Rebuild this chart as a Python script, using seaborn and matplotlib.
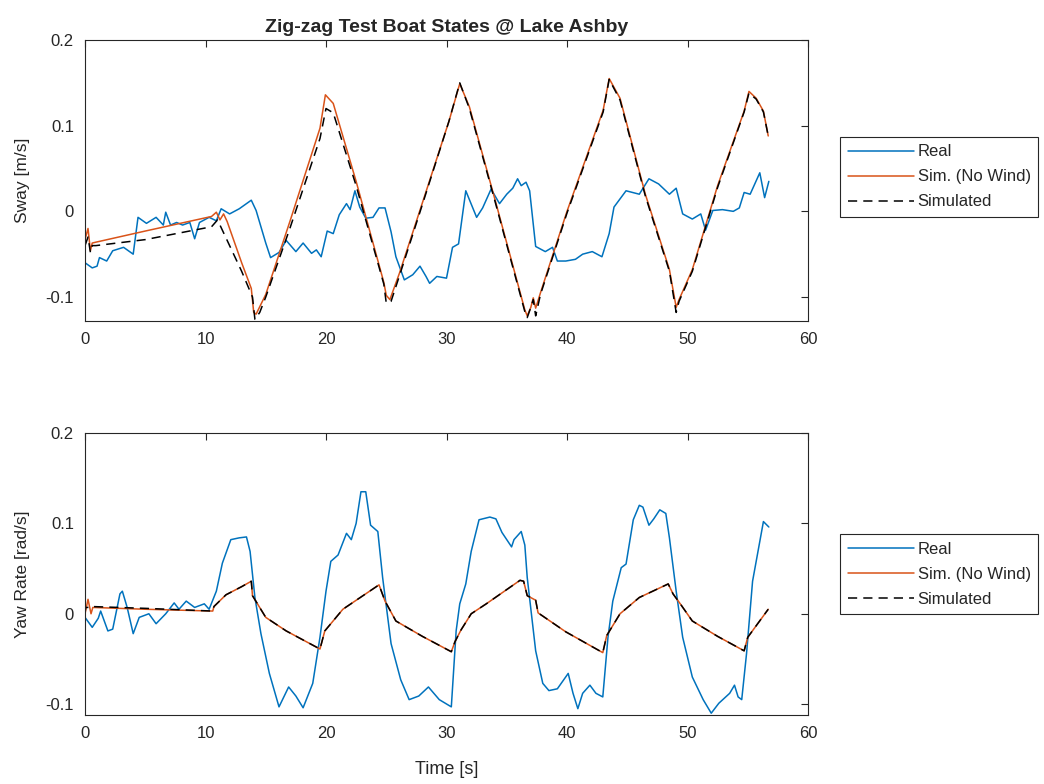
import matplotlib
matplotlib.use("Agg")
import matplotlib.pyplot as plt
import seaborn as sns
import numpy as np

# ---------------- data ----------------
# Sway [m/s]
sway_real_t = [0, 0.6, 1.0, 1.2, 1.8, 2.3, 3.2, 4.0, 4.4, 5.1, 5.9, 6.5, 6.7, 7.1, 7.6, 8.1, 8.7, 9.1, 9.5,
               10.3, 10.9, 11.3, 12.0, 12.8, 13.8, 14.2, 15.0, 15.4, 16.1, 16.7, 17.5, 18.1, 18.8, 19.2, 19.6,
               20.1, 20.6, 21.1, 21.7, 22.0, 22.4, 22.8, 23.3, 23.9, 24.4, 24.9, 25.4, 25.8, 26.5, 27.2, 27.8,
               28.3, 28.6, 29.2, 30.0, 30.5, 31.0, 31.6, 32.5, 33.0, 33.7, 34.4, 35.0, 35.5, 35.9, 36.2, 36.6,
               36.9, 37.4, 38.2, 38.8, 39.2, 39.9, 40.7, 41.3, 42.1, 42.9, 43.5, 43.9, 44.9, 46.0, 46.8, 47.6,
               48.5, 49.06, 49.6, 50.4, 51.1, 51.5, 52.1, 52.9, 53.8, 54.3, 54.7, 55.2, 56.0, 56.4, 56.75]
sway_real_v = [-0.060, -0.066, -0.064, -0.054, -0.058, -0.046, -0.042, -0.050, -0.007, -0.014, -0.007, -0.016,
               -0.001, -0.016, -0.013, -0.016, -0.013, -0.032, -0.013, -0.007, -0.011, 0.003, -0.003, 0.003,
               0.013, 0.001, -0.037, -0.054, -0.048, -0.034, -0.047, -0.037, -0.049, -0.045, -0.053, -0.023,
               -0.026, -0.004, 0.009, 0.002, 0.024, 0.005, -0.008, -0.007, 0.004, 0.004, -0.024, -0.053, -0.080,
               -0.074, -0.064, -0.076, -0.084, -0.076, -0.078, -0.042, -0.038, 0.024, -0.007, 0.004, 0.026,
               0.009, 0.020, 0.027, 0.038, 0.030, 0.034, 0.024, -0.041, -0.047, -0.042, -0.058, -0.058, -0.056,
               -0.050, -0.047, -0.053, -0.026, 0.005, 0.024, 0.020, 0.038, 0.032, 0.020, 0.027, -0.003, -0.009,
               -0.003, -0.022, 0.001, 0.002, 0.000, 0.004, 0.022, 0.020, 0.045, 0.016, 0.035]

sway_nowind_t = [0, 0.25, 0.45, 0.6, 0.9, 5, 10.5, 10.9, 11.2, 11.5, 11.8, 13.0, 13.8, 14.0, 14.2, 15.0, 17.0,
                 19.5, 19.95, 20.6, 22.5, 24.8, 25.0, 25.3, 26.1, 28.0, 30.2, 31.1, 31.9, 34.0, 36.5, 36.7,
                 37.0, 37.2, 37.4, 37.8, 40.0, 43.0, 43.5, 44.4, 46.5, 48.5, 49.06, 49.3, 50.4, 52.5, 54.7,
                 55.1, 55.7, 56.3, 56.7]
sway_nowind_v = [-0.033, -0.020, -0.046, -0.037, -0.036, -0.023, -0.006, -0.001, -0.010, -0.003, -0.012,
                 -0.060, -0.090, -0.118, -0.120, -0.097, -0.012, 0.097, 0.136, 0.126, 0.035, -0.083, -0.098,
                 -0.103, -0.072, 0.010, 0.105, 0.149, 0.122, 0.015, -0.115, -0.122, -0.112, -0.101, -0.113,
                 -0.095, 0.000, 0.118, 0.155, 0.132, 0.020, -0.068, -0.112, -0.103, -0.068, 0.030, 0.117,
                 0.140, 0.132, 0.117, 0.088]

sway_sim_t = [0, 0.25, 0.45, 0.6, 0.9, 5, 10.5, 11.0, 11.5, 13.0, 13.9, 14.1, 14.5, 15.0, 17.0, 19.5, 20.0,
              20.6, 22.5, 24.8, 25.0, 25.4, 26.1, 28.0, 30.2, 31.1, 31.9, 34.0, 36.5, 36.7, 37.0, 37.2, 37.4,
              37.8, 40.0, 43.0, 43.5, 44.4, 46.5, 48.5, 49.06, 49.3, 50.4, 52.5, 54.7, 55.1, 55.7, 56.3, 56.7]
sway_sim_v = [-0.040, -0.030, -0.048, -0.040, -0.040, -0.033, -0.018, -0.010, -0.025, -0.070, -0.100, -0.126,
              -0.118, -0.100, -0.020, 0.085, 0.120, 0.115, 0.030, -0.085, -0.107, -0.105, -0.075, 0.008, 0.105,
              0.150, 0.120, 0.013, -0.117, -0.124, -0.112, -0.103, -0.122, -0.097, -0.002, 0.116, 0.154, 0.130,
              0.018, -0.070, -0.118, -0.105, -0.070, 0.028, 0.116, 0.138, 0.131, 0.116, 0.088]

# Yaw rate [rad/s]
yaw_real_t = [0, 0.6, 1.1, 1.3, 1.9, 2.3, 2.9, 3.1, 3.5, 4.0, 4.5, 5.3, 5.9, 6.7, 7.4, 7.8, 8.4, 9.1, 9.9, 10.3,
              10.9, 11.4, 12.1, 12.8, 13.4, 13.7, 14.1, 14.6, 15.3, 16.1, 16.9, 17.5, 18.1, 18.9, 19.5, 20.0,
              20.4, 21.0, 21.7, 22.1, 22.5, 22.9, 23.3, 23.7, 24.3, 24.7, 25.4, 26.2, 26.9, 27.7, 28.5, 29.4,
              30.4, 30.8, 31.1, 31.6, 32.05, 32.7, 33.6, 34.1, 34.6, 35.4, 35.6, 36.2, 36.5, 36.7, 37.4, 37.99,
              38.5, 39.2, 40.1, 40.5, 40.9, 41.3, 41.9, 42.4, 42.97, 43.4, 43.8, 44.5, 44.9, 45.5, 46.0, 46.3,
              46.8, 47.2, 47.7, 48.2, 48.5, 49.06, 49.6, 50.4, 51.3, 51.97, 52.6, 53.5, 53.9, 54.2, 54.5, 54.9,
              55.4, 56.0, 56.3, 56.75]
yaw_real_v = [-0.004, -0.015, -0.005, 0.003, -0.019, -0.017, 0.022, 0.025, 0.007, -0.022, -0.004, 0.000,
              -0.011, 0.000, 0.012, 0.005, 0.014, 0.007, 0.011, 0.005, 0.025, 0.056, 0.082, 0.084, 0.085, 0.069,
              0.018, -0.022, -0.066, -0.103, -0.081, -0.091, -0.104, -0.077, -0.026, 0.025, 0.058, 0.065, 0.089,
              0.082, 0.100, 0.135, 0.135, 0.098, 0.091, 0.040, -0.033, -0.073, -0.095, -0.091, -0.081, -0.095,
              -0.103, -0.019, 0.011, 0.033, 0.069, 0.104, 0.107, 0.105, 0.090, 0.074, 0.082, 0.091, 0.076, 0.040,
              -0.041, -0.077, -0.085, -0.083, -0.066, -0.088, -0.105, -0.088, -0.079, -0.088, -0.092, -0.026,
              0.014, 0.051, 0.055, 0.104, 0.120, 0.118, 0.098, 0.105, 0.115, 0.111, 0.084, 0.025, -0.026, -0.070,
              -0.095, -0.110, -0.099, -0.088, -0.079, -0.092, -0.095, -0.044, 0.036, 0.080, 0.102, 0.096]

yaw_nowind_t = [0, 0.25, 0.5, 0.65, 5, 10.6, 10.7, 11.7, 13.0, 13.8, 13.9, 15.0, 16.7, 19.5, 19.9, 21.4, 24.4,
                24.9, 25.8, 28.0, 30.4, 30.7, 31.2, 32.05, 33.3, 36.1, 36.4, 36.7, 37.4, 37.6, 39.9, 42.97,
                43.3, 44.4, 46.0, 48.4, 48.8, 49.4, 50.4, 52.5, 54.7, 55.0, 56.7]
yaw_nowind_v = [0.000, 0.016, 0.000, 0.007, 0.005, 0.003, 0.008, 0.021, 0.030, 0.036, 0.020, -0.004, -0.019,
                -0.039, -0.019, 0.005, 0.032, 0.014, -0.008, -0.025, -0.042, -0.031, -0.018, 0.000, 0.011,
                0.037, 0.036, 0.020, 0.015, 0.001, -0.020, -0.043, -0.024, 0.000, 0.018, 0.033, 0.022, 0.011,
                -0.008, -0.025, -0.041, -0.026, 0.005]

yaw_sim_t = [0, 0.05, 0.5, 0.55, 5, 10.6, 10.7, 11.7, 13.0, 13.8, 13.9, 15.0, 16.7, 19.5, 19.9, 21.4, 24.4,
             24.9, 25.8, 28.0, 30.4, 30.7, 31.2, 32.05, 33.3, 36.1, 36.4, 36.7, 37.4, 37.6, 39.9, 42.97,
             43.3, 44.4, 46.0, 48.4, 48.8, 49.4, 50.4, 52.5, 54.7, 55.0, 56.7]
yaw_sim_v = [0.000, 0.007, 0.007, 0.008, 0.006, 0.003, 0.008, 0.021, 0.030, 0.036, 0.020, -0.004, -0.019,
             -0.039, -0.019, 0.005, 0.032, 0.014, -0.008, -0.025, -0.042, -0.031, -0.018, 0.000, 0.011,
             0.037, 0.036, 0.020, 0.015, 0.001, -0.020, -0.043, -0.024, 0.000, 0.018, 0.033, 0.022, 0.011,
             -0.008, -0.025, -0.041, -0.026, 0.005]

series_labels = ["Real", "Sim. (No Wind)", "Simulated"]
x_ticks = [0, 10, 20, 30, 40, 50, 60]
y_ticks = [-0.1, 0, 0.1, 0.2]
y_tick_labels = ["-0.1", "0", "0.1", "0.2"]
title = "Zig-zag Test Boat States @ Lake Ashby"

# ---------------- style ----------------
sns.set_theme(style="white")
plt.rcParams["font.family"] = ["Liberation Sans", "DejaVu Sans"]
TXT = "#262626"
BLUE = "#0072BD"
ORANGE = "#D95319"

fig = plt.figure(figsize=(10.44, 7.84), dpi=100)
W, H = 1044, 784
ax1 = fig.add_axes([85 / W, 1 - 321 / H, 723 / W, 281 / H])
ax2 = fig.add_axes([85 / W, 1 - 715 / H, 723 / W, 282 / H])

panels = [
    (ax1, sway_real_t, sway_real_v, sway_nowind_t, sway_nowind_v, sway_sim_t, sway_sim_v,
     "Sway [m/s]", (-0.128, 0.2), 1 - 137 / H),
    (ax2, yaw_real_t, yaw_real_v, yaw_nowind_t, yaw_nowind_v, yaw_sim_t, yaw_sim_v,
     "Yaw Rate [rad/s]", (-0.112, 0.2), 1 - 534 / H),
]

for ax, rt, rv, nt, nv, st, sv, ylab, ylim, legtop in panels:
    sns.lineplot(x=rt, y=rv, ax=ax, color=BLUE, lw=1.1, label=series_labels[0],
                 estimator=None, sort=False)
    sns.lineplot(x=nt, y=nv, ax=ax, color=ORANGE, lw=1.1, label=series_labels[1],
                 estimator=None, sort=False)
    sns.lineplot(x=st, y=sv, ax=ax, color="black", lw=1.1, label=series_labels[2],
                 estimator=None, sort=False, linestyle=(0, (6, 4)))
    ax.set_xlim(0, 60)
    ax.set_ylim(*ylim)
    ax.set_xticks(x_ticks)
    ax.set_xticklabels([str(v) for v in x_ticks])
    ax.set_yticks(y_ticks)
    ax.set_yticklabels(y_tick_labels)
    ax.tick_params(direction="in", top=True, right=True, length=5, width=0.8,
                   colors=TXT, labelsize=12, pad=8)
    for sp in ax.spines.values():
        sp.set_color(TXT)
        sp.set_linewidth(0.8)
    ax.set_ylabel(ylab, fontsize=12.5, color=TXT, labelpad=11)
    ax.set_xlabel("")
    leg = ax.legend(loc="upper left", bbox_to_anchor=(840 / W, legtop),
                    bbox_transform=fig.transFigure, fontsize=12, frameon=True,
                    fancybox=False, framealpha=1, edgecolor=TXT, handlelength=4.0,
                    handletextpad=0.2, labelspacing=0.6, borderpad=0.45, borderaxespad=0)
    leg.get_frame().set_linewidth(0.8)
    for t in leg.get_texts():
        t.set_color(TXT)

ax2.set_xlabel("Time [s]", fontsize=13, color=TXT, labelpad=14)
ax1.set_title(title, fontsize=14, fontweight="bold", color=TXT, pad=6)

fig.savefig("out.png", dpi=100)
